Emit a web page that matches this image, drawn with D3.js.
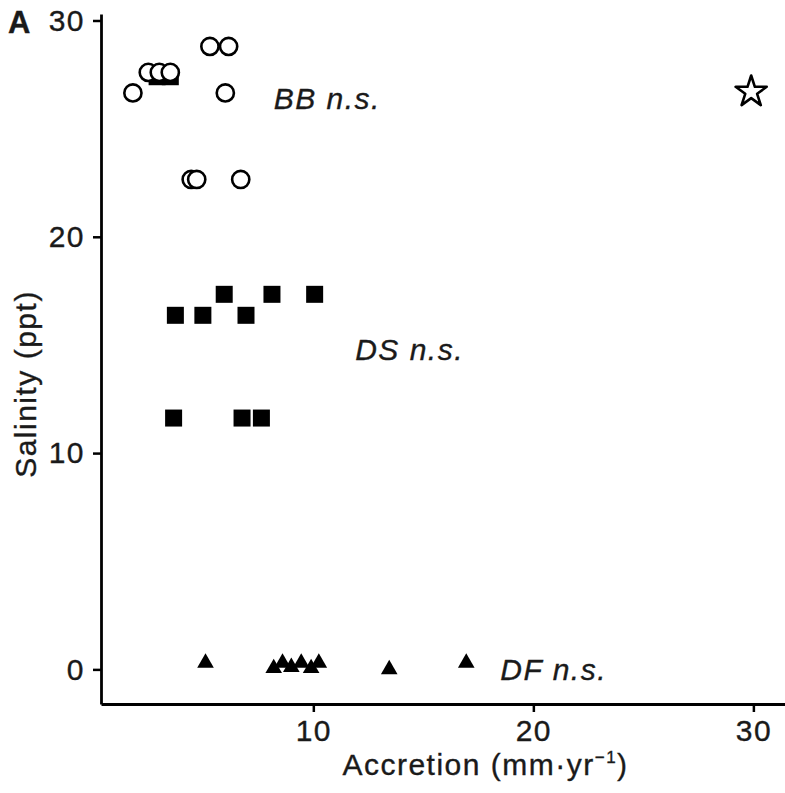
<!DOCTYPE html>
<html>
<head>
<meta charset="utf-8">
<script src="https://cdn.jsdelivr.net/npm/d3@7"></script>
<style>
  body { margin: 0; background: #fff; }
  svg { display: block; font-family: "Liberation Sans", Arial, sans-serif; }
  .lbl { fill: #1a1a1a; stroke: #1a1a1a; stroke-width: 0.35px; }
</style>
</head>
<body>
<div id="chart"></div>
<script>
// Site data: accretion (mm/yr) vs. salinity (ppt)
const bbAccretion = [1.8, 2.5, 3.0, 3.5, 5.3, 6.15, 6.0, 4.45, 4.7, 6.7];
const bbSalinity  = [26.65, 27.6, 27.6, 27.6, 28.8, 28.8, 26.65, 22.65, 22.65, 22.65];

const dsAccretion = [2.9, 3.5, 3.73, 4.98, 5.95, 6.94, 8.12, 10.06, 3.65, 6.76, 7.64];
const dsSalinity  = [27.4, 27.4, 16.37, 16.37, 17.34, 16.37, 17.34, 17.34, 11.62, 11.62, 11.62];

const dfAccretion = [5.1, 8.2, 8.6, 9.0, 9.45, 9.9, 10.25, 13.45, 16.95];
const dfSalinity  = [0.3, 0.05, 0.3, 0.1, 0.3, 0.05, 0.3, 0.0, 0.3];

const outlierAccretion = [29.9];
const outlierSalinity  = [26.7];

const siteLabels = ["BB", "DS", "DF"];
const labelAccretion = [8.2, 11.9, 18.5];
const labelSalinity  = [26.4, 14.8, 0];

const xTicks = [10, 20, 30];
const yTicks = [0, 10, 20, 30];

const width = 785;
const height = 793;

const x = d3.scaleLinear().domain([0.35, 35.3]).range([101, 870]);
const y = d3.scaleLinear().domain([-1.6, 30.3]).range([704, 14]);

const zip = (xs, ys) => xs.map((v, i) => ({ x: v, y: ys[i] }));

const svg = d3.select("#chart").append("svg")
    .attr("width", width)
    .attr("height", height)
    .attr("viewBox", [0, 0, width, height]);

// Axes
svg.append("g")
    .attr("transform", `translate(0,${y.range()[0]})`)
    .call(d3.axisBottom(x).tickValues(xTicks).tickSize(8).tickPadding(8).tickSizeOuter(0))
    .call(g => g.select(".domain").attr("stroke-width", 2.8))
    .call(g => g.selectAll(".tick line").attr("stroke-width", 2.5))
    .call(g => g.selectAll(".tick text").attr("class", "lbl")
        .attr("font-size", 30).attr("letter-spacing", 1.5));

svg.append("g")
    .attr("transform", `translate(${x.range()[0]},0)`)
    .call(d3.axisLeft(y).tickValues(yTicks).tickSize(8).tickPadding(8).tickSizeOuter(0))
    .call(g => g.select(".domain").attr("stroke-width", 2.8))
    .call(g => g.selectAll(".tick line").attr("stroke-width", 2.5))
    .call(g => g.selectAll(".tick text").attr("class", "lbl")
        .attr("font-size", 30).attr("letter-spacing", 1.5));

// Axis titles
const xTitle = svg.append("text")
    .attr("class", "lbl")
    .attr("x", (x.range()[0] + x.range()[1]) / 2)
    .attr("y", 775)
    .attr("text-anchor", "middle")
    .attr("font-size", 30)
    .attr("letter-spacing", 1.5);
xTitle.append("tspan").text("Accretion (mm·yr");
xTitle.append("tspan").attr("font-size", 17).attr("dy", -12).text("−1");
xTitle.append("tspan").attr("dy", 12).text(")");

svg.append("text")
    .attr("class", "lbl")
    .attr("transform", "translate(36,384) rotate(-90)")
    .attr("text-anchor", "middle")
    .attr("font-size", 30)
    .attr("letter-spacing", 1.5)
    .text("Salinity (ppt)");

// Panel tag
svg.append("text")
    .attr("class", "lbl")
    .attr("x", 8)
    .attr("y", 33)
    .attr("font-size", 31)
    .attr("font-weight", "bold")
    .text("A");

// DS squares (drawn first so open circles sit on top)
const sq = 17;
svg.append("g")
  .selectAll("rect")
  .data(zip(dsAccretion, dsSalinity))
  .join("rect")
    .attr("x", d => x(d.x) - sq / 2)
    .attr("y", d => y(d.y) - sq / 2)
    .attr("width", sq)
    .attr("height", sq)
    .attr("fill", "#000");

// BB open circles
svg.append("g")
  .selectAll("circle")
  .data(zip(bbAccretion, bbSalinity))
  .join("circle")
    .attr("cx", d => x(d.x))
    .attr("cy", d => y(d.y))
    .attr("r", 8.6)
    .attr("fill", "#fff")
    .attr("stroke", "#000")
    .attr("stroke-width", 2.6);

// DF triangles
svg.append("g")
  .selectAll("path")
  .data(zip(dfAccretion, dfSalinity))
  .join("path")
    .attr("transform", d => `translate(${x(d.x)},${y(d.y)})`)
    .attr("d", d3.symbol(d3.symbolTriangle, 120))
    .attr("fill", "#000");

// Outlier star
svg.append("g")
  .selectAll("path")
  .data(zip(outlierAccretion, outlierSalinity))
  .join("path")
    .attr("transform", d => `translate(${x(d.x)},${y(d.y)})`)
    .attr("d", d3.symbol(d3.symbolStar, 300))
    .attr("fill", "#fff")
    .attr("stroke", "#000")
    .attr("stroke-width", 2.6)
    .attr("stroke-linejoin", "round");

// Significance labels
svg.append("g")
  .selectAll("text")
  .data(siteLabels.map((s, i) => ({ s, x: labelAccretion[i], y: labelSalinity[i] })))
  .join("text")
    .attr("class", "lbl")
    .attr("x", d => x(d.x))
    .attr("y", d => y(d.y))
    .attr("dy", "0.35em")
    .attr("font-size", 30)
    .attr("font-style", "italic")
    .attr("letter-spacing", 1.5)
    .text(d => `${d.s} n.s.`);
</script>
</body>
</html>
